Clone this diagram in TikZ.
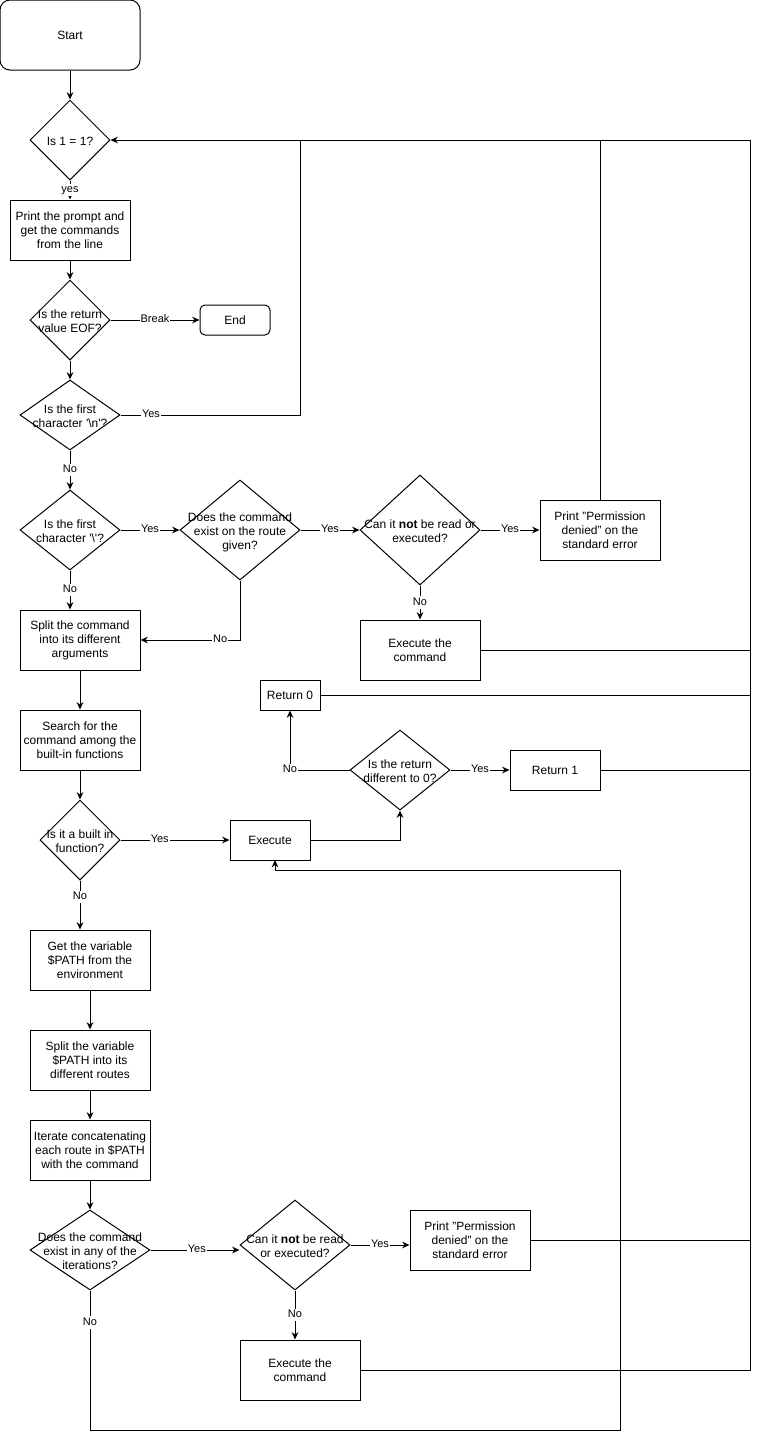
\documentclass[tikz,border=0pt]{standalone}
\usepackage{fontspec}
\setmainfont{Liberation Sans}
\usetikzlibrary{shapes.geometric,arrows.meta}
\newcommand{\dtx}[1]{\smash{\makebox[0pt]{\raisebox{-4pt}{\begin{tabular}{@{}c@{}}#1\end{tabular}}}}}
\newcommand{\sq}{\textquotesingle}
\begin{document}
\begin{tikzpicture}[x=0.75pt,y=-0.75pt, line width=0.75pt,
  >={Stealth[length=5.5pt,width=5pt]},
  rbox/.style 2 args={draw, rectangle, inner sep=0pt, align=center, minimum width=#1, minimum height=#2, font=\fontsize{9}{10.5}\selectfont},
  dia/.style 2 args={draw, diamond, inner sep=0pt, minimum width=#1, minimum height=#2, font=\fontsize{9}{10.5}\selectfont},
  lbl/.style={fill=white, inner sep=0.8pt, text height=6pt, text depth=1.8pt, font=\fontsize{8.25}{9}\selectfont}]
\useasboundingbox (0,0) rectangle (760,1440);

% nodes
\node[rbox={105pt}{52.5pt}, rounded corners=7.5pt] (start) at (70,35) {Start};
\node[dia={60pt}{60pt}] (d1) at (70,140) {\dtx{Is 1 = 1?}};
\node[rbox={90pt}{45pt}] (prompt) at (70,230) {Print the prompt and\\get the commands\\from the line};
\node[dia={60pt}{60pt}] (deof) at (70,320) {\dtx{Is the return\\value EOF?}};
\node[rbox={52.5pt}{22.5pt}, rounded corners=3.75pt] (endb) at (235,320) {End};
\node[dia={75pt}{52.5pt}] (dnl) at (70,415) {\dtx{Is the first\\character \sq\textbackslash n\sq?}};
\node[dia={75pt}{60pt}] (dbs) at (70,530) {\dtx{Is the first\\character \sq\textbackslash\sq?}};
\node[dia={90pt}{75pt}] (dexist) at (240,530) {\dtx{Does the command\\exist on the route\\given?}};
\node[dia={90pt}{82.5pt}] (dcan1) at (420,530) {\dtx{Can it \textbf{not} be read or\\executed?}};
\node[rbox={90pt}{45pt}] (perm1) at (600,530) {Print "Permission\\denied" on the\\standard error};
\node[rbox={90pt}{45pt}] (exec1) at (420,650) {Execute the\\command};
\node[rbox={90pt}{45pt}] (split) at (80,640) {Split the command\\into its different\\arguments};
\node[rbox={45pt}{22.5pt}] (ret0) at (290,695) {Return 0};
\node[rbox={90pt}{45pt}] (search) at (80,740) {Search for the\\command among the\\built-in functions};
\node[dia={75pt}{60pt}] (ddiff) at (400,770) {\dtx{Is the return\\different to 0?}};
\node[rbox={67.5pt}{30pt}] (ret1) at (555,770) {Return 1};
\node[dia={60pt}{60pt}] (dbuilt) at (80,840) {\dtx{Is it a built in\\function?}};
\node[rbox={60pt}{30pt}] (execb) at (270,840) {Execute};
\node[rbox={90pt}{45pt}] (getvar) at (90,960) {Get the variable\\\$PATH from the\\environment};
\node[rbox={90pt}{45pt}] (splitvar) at (90,1060) {Split the variable\\\$PATH into its\\different routes};
\node[rbox={90pt}{45pt}] (iter) at (90,1150) {Iterate concatenating\\each route in \$PATH\\with the command};
\node[dia={90pt}{60pt}] (diter) at (90,1250) {\dtx{Does the command\\exist in any of the\\iterations?}};
\node[dia={82.5pt}{67.5pt}] (dcan2) at (295,1245) {\dtx{Can it \textbf{not} be read\\or executed?}};
\node[rbox={90pt}{45pt}] (perm2) at (470,1240) {Print "Permission\\denied" on the\\standard error};
\node[rbox={90pt}{45pt}] (exec2) at (300,1370) {Execute the\\command};

% connectors
\draw[->] (start) -- (d1);
\draw[->] (d1.south) -- node[lbl] (l1) {yes} (prompt.north);
\draw[->] (prompt) -- (deof);
\draw[->] (deof.east) -- node[lbl] (l2) {Break} (endb.west);
\draw[->] (deof.south) -- (dnl.north);
\draw (dnl.east) -- node[lbl, pos=0.17] (l3) {Yes} (300,415) -- (300,140);
\draw[->] (exec2.east) -- (750,1370) -- (750,140) -- (d1.east);
\draw[->] (dnl.south) -- node[lbl] (l4) {No} (dbs.north);
\draw[->] (dbs.east) -- node[lbl] (l5) {Yes} (dexist.west);
\draw[->] (dexist.east) -- node[lbl] (l6) {Yes} (dcan1.west);
\draw[->] (dcan1.east) -- node[lbl] (l7) {Yes} (perm1.west);
\draw (perm1.north) -- (600,140);
\draw[->] (dcan1.south) -- node[lbl] (l8) {No} (exec1.north);
\draw (exec1.east) -- (750,650);
\draw[->] (dbs.south) -- node[lbl] (l9) {No} (dbs.south |- split.north);
\draw[->] (dexist.south) -- (240,640) -- node[lbl, pos=0.2] (l10) {No} (split.east);
\draw[->] (split) -- (search);
\draw[->] (search) -- (dbuilt);
\draw[->] (dbuilt.east) -- node[lbl, pos=0.36] (l11) {Yes} (execb.west);
\draw[->] (execb.east) -- (400,840) -- (ddiff.south);
\draw[->] (ddiff.west) -- node[lbl, pos=1] (l12) {No} (290,770) -- (ret0.south);
\draw[->] (ddiff.east) -- node[lbl] (l13) {Yes} (ret1.west);
\draw (ret0.east) -- (750,695);
\draw (ret1.east) -- (750,770);
\draw[->] (dbuilt.south) -- node[lbl, pos=0.34] (l14) {No} (dbuilt.south |- getvar.north);
\draw[->] (getvar) -- (splitvar);
\draw[->] (splitvar) -- (iter);
\draw[->] (iter) -- (diter);
\draw[->] (diter.east) -- node[lbl, pos=0.52] (l15) {Yes} (dcan2.west |- diter.east);
\draw[->] (dcan2.east) -- node[lbl] (l16) {Yes} (perm2.west |- dcan2.east);
\draw[->] (dcan2.south) -- node[lbl] (l17) {No} (dcan2.south |- exec2.north);
\draw (perm2.east) -- (750,1240);
\draw[->] (diter.south) -- node[lbl, pos=0.23] (l18) {No} (90,1430) -- (620,1430) -- (620,870) -- (275,870) -- (275,860);
\end{tikzpicture}
\end{document}
